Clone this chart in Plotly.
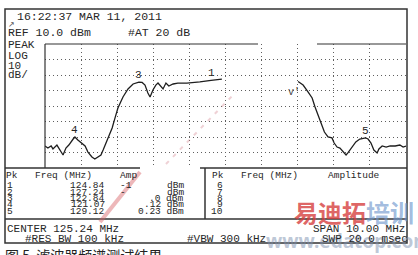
import plotly.graph_objects as go

W, H = 418, 255

# ---- analyzer settings ----
center_mhz = 125.24
span_mhz = 10.0
ref_dbm = 10.0
db_per_div = 10.0
visible_divs = 8
rbw_khz = 100
vbw_khz = 300
swp_ms = 20.0
atten_db = 20
timestamp = "16:22:37 MAR 11, 2011"

# ---- visible trace (left part, then right part after the erased band) ----
trace_freq_a = [120.24, 120.32, 120.41, 120.46, 120.57, 120.66, 120.74, 120.82, 120.90, 121.02,
                121.07, 121.15, 121.26, 121.35, 121.43, 121.54, 121.62, 121.71, 121.79, 121.85,
                121.93, 121.99, 122.10, 122.18, 122.26, 122.40, 122.54, 122.68, 122.84, 122.93,
                123.01, 123.09, 123.15, 123.23, 123.31, 123.37, 123.45, 123.51, 123.59, 123.67,
                123.79, 123.92, 124.17, 124.53, 124.84, 125.14]
trace_amp_a = [-55.8, -57.1, -55.8, -57.7, -55.2, -58.4, -61.6, -57.1, -55.2, -51.3,
               -50.0, -51.9, -53.9, -55.8, -59.7, -62.9, -64.2, -62.9, -61.6, -58.4,
               -53.9, -50.0, -44.2, -37.7, -31.3, -24.2, -19.0, -15.8, -14.6, -14.8,
               -16.5, -21.6, -24.2, -19.7, -16.5, -15.2, -17.7, -19.0, -15.2, -17.1,
               -15.8, -15.2, -15.2, -14.5, -13.4, -12.6]
trace_freq_b = [127.25, 127.39, 127.53, 127.64, 127.72, 127.80, 127.91, 127.98, 128.08, 128.19,
                128.25, 128.33, 128.41, 128.49, 128.58, 128.63, 128.74, 128.85, 128.96, 129.12,
                129.19, 129.27, 129.35, 129.44, 129.49, 129.58, 129.69, 129.80, 129.94, 130.07,
                130.16, 130.24]
trace_amp_b = [-14.2, -16.5, -21.0, -24.8, -30.6, -35.8, -42.3, -46.8, -50.0, -50.6,
               -53.9, -56.5, -57.1, -59.0, -61.6, -60.3, -57.1, -53.2, -51.3, -50.6,
               -51.3, -53.9, -58.4, -60.3, -57.7, -55.8, -56.5, -55.8, -55.8, -55.2,
               -56.5, -55.8]

# ---- peak table ----
pk_num = [1, 2, 3, 4, 5]
pk_freq = [124.84, 127.24, 122.84, 121.07, 129.12]
pk_amp = [-13.4, -14.2, -14.6, -50.0, -50.6]          # estimated (hidden in table)
pk_amp_left_visible = ["-1", "-", "", "", ""]          # fragments visible in table
pk_amp_right_visible = ["dBm", "dBm", ".0 dBm", ".12 dBm", "0.23 dBm"]
pk_labels_visible = [1, 3, 4, 5]
pk_num_right = [6, 7, 8, 9, 10]

MONO = "Liberation Mono"
INK = "#262626"
TBL = 9.5


def px(x):
    return x / W


def py(y):
    return 1 - y / H


def ann(text, x, y, anchor="left", size=11, color=INK, family=MONO):
    return dict(text=text, x=px(x), y=py(y), xref="paper", yref="paper",
                xanchor=anchor, yanchor="middle", showarrow=False,
                font=dict(family=family, size=size, color=color))


def hline(x0, x1, y, w=1.5, color="#333"):
    return dict(type="line", xref="paper", yref="paper", x0=px(x0), x1=px(x1),
                y0=py(y), y1=py(y), line=dict(color=color, width=w), layer="above")


def vline(x, y0, y1, w=1.5, color="#333"):
    return dict(type="line", xref="paper", yref="paper", x0=px(x), x1=px(x),
                y0=py(y0), y1=py(y1), line=dict(color=color, width=w), layer="above")


fig = go.Figure()
for fx, ay in ((trace_freq_a, trace_amp_a), (trace_freq_b, trace_amp_b)):
    fig.add_trace(go.Scatter(x=fx, y=ay, mode="lines",
                             line=dict(color="#1e1e1e", width=1.3),
                             hoverinfo="skip", showlegend=False))

x0 = center_mhz - span_mhz / 2
x1 = center_mhz + span_mhz / 2
y_bot = ref_dbm - visible_divs * db_per_div

grid = dict(showticklabels=False, ticks="", showline=False, zeroline=False,
            showgrid=True, gridcolor="#5e5e5e", gridwidth=1, griddash="1px,3px",
            fixedrange=True)
fig.update_xaxes(range=[x0, x1], tick0=x0, dtick=span_mhz / 10,
                 domain=[px(45), px(406)], **grid)
fig.update_yaxes(range=[y_bot, ref_dbm], tick0=ref_dbm, dtick=db_per_div,
                 domain=[py(168), py(44)], **grid)

# erased (whited-out) diagonal band in the middle of the screenshot
band = [(247, 44), (318, 44), (322, 76), (300, 90), (266, 106), (254, 122),
        (238, 137), (214, 153), (200, 168), (140, 168), (165, 158), (166, 138),
        (184, 122), (195, 100), (212, 92), (213, 76), (226, 74), (247, 60)]
path = "M " + " L ".join(f"{px(a):.5f},{py(b):.5f}" for a, b in band) + " Z"

shapes = [
    dict(type="path", xref="paper", yref="paper", path=path,
         fillcolor="white", line=dict(width=0), layer="between"),
    dict(type="rect", xref="paper", yref="paper", x0=px(46), x1=px(205),
         y0=py(104.5), y1=py(107.5), fillcolor="white", line=dict(width=0),
         layer="between"),
    # outer frame
    dict(type="rect", xref="paper", yref="paper", x0=px(5), x1=px(407),
         y0=py(243), y1=py(9), line=dict(color="#333", width=1.5), layer="above"),
    # graticule frame
    vline(45, 44, 168, w=1.2),
    hline(45, 258, 44, w=1.2),
    hline(317, 406, 44, w=1.2),
    # table
    hline(5, 140, 168),
    hline(200, 407, 168),
    vline(205, 168, 219),
    hline(5, 407, 219),
    # faint watermark strokes
    dict(type="line", xref="paper", yref="paper", x0=px(100), y0=py(222),
         x1=px(140), y1=py(172), line=dict(color="rgba(215,95,100,0.45)", width=4),
         layer="above"),
    dict(type="line", xref="paper", yref="paper", x0=px(166), y0=py(164),
         x1=px(236), y1=py(92), line=dict(color="rgba(215,140,150,0.4)", width=2, dash="4px,6px"),
         layer="above"),
]

annotations = [
    # watermark (drawn first so instrument text stays on top)
    ann("<b><span style='color:rgba(214,60,60,0.78)'>易迪拓</span>"
        "<span style='color:rgba(110,150,205,0.65)'>培训</span></b>",
        354, 211, anchor="center", size=24, family="Noto Sans CJK SC"),
    ann("<b>www.edatop.com</b>", 349, 241, anchor="center", size=19,
        color="rgba(125,145,175,0.5)", family="Noto Sans"),
    # header
    ann(timestamp, 15, 16, size=11.5),
    ann("↗", 6, 25, size=8, color="#555"),
    ann(f"REF {ref_dbm:.1f} dBm", 6, 33, size=11.5),
    ann(f"#AT {atten_db} dB", 126, 33, size=11.5),
    ann("PEAK", 6, 45, size=11),
    ann("LOG", 6, 56, size=11),
    ann(f"{db_per_div:.0f}", 6, 65.5, size=11),
    ann("dB/", 6, 75, size=11),
    ann("v'", 286, 92, size=10, color="#444"),
    # table headers
    ann("Pk", 4, 175.5, size=TBL),
    ann("Freq (MHz)", 33, 175.5, size=TBL),
    ann("Amp", 118, 175.5, size=TBL),
    ann("Pk", 210, 175.5, size=TBL),
    ann("Freq (MHz)", 239, 175.5, size=TBL),
    ann("Amplitude", 326, 175.5, size=TBL),
    # bottom settings
    ann(f"CENTER {center_mhz:.2f} MHz", 5, 229, size=11),
    ann(f"#RES BW {rbw_khz} kHz", 23, 238.5, size=11),
    ann(f"#VBW {vbw_khz} kHz", 185, 238.5, size=11),
    ann(f"SPAN {span_mhz:.2f} MHz", 407, 229, anchor="right", size=11),
    ann(f"SWP {swp_ms:.1f} msec", 320, 238.5, size=11),
    # caption (cut off by the window)
    ann("图 5  滤波器频谱测试结果", 3, 255, size=14, color="#222",
        family="Noto Sans CJK SC"),
]

row_y = [185.5, 192, 198.3, 204.6, 211]
for i, n in enumerate(pk_num):
    annotations.append(ann(str(n), 5, row_y[i], size=TBL))
    annotations.append(ann(f"{pk_freq[i]:.2f}", 107, row_y[i], anchor="right", size=TBL))
    if pk_amp_left_visible[i]:
        annotations.append(ann(pk_amp_left_visible[i], 118, row_y[i], size=TBL))
    annotations.append(ann(pk_amp_right_visible[i], 186, row_y[i], anchor="right", size=TBL))
for i, n in enumerate(pk_num_right):
    annotations.append(ann(str(n), 225, row_y[i], anchor="right", size=TBL))

# marker numbers on the trace
for n in pk_labels_visible:
    i = pk_num.index(n)
    annotations.append(dict(text=str(n), x=pk_freq[i], y=pk_amp[i], xref="x", yref="y",
                            xanchor="center", yanchor="middle", yshift=7, showarrow=False,
                            font=dict(family=MONO, size=11, color=INK)))

fig.update_layout(width=W, height=H, margin=dict(l=0, r=0, t=0, b=0),
                  paper_bgcolor="white", plot_bgcolor="white",
                  shapes=shapes, annotations=annotations, showlegend=False)

fig.write_html("out.html", config={"displayModeBar": False})
